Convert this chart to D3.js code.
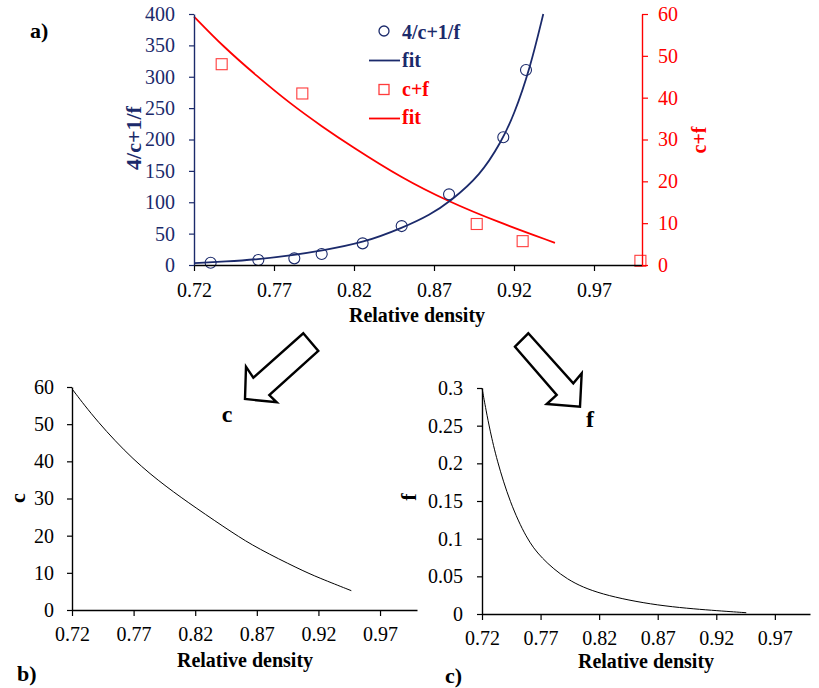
<!DOCTYPE html>
<html>
<head>
<meta charset="utf-8">
<script src="https://cdn.jsdelivr.net/npm/d3@7"></script>
<style>
  body { margin: 0; background: #fff; }
</style>
</head>
<body>
<svg id="main-svg" width="819" height="688"></svg>
<script>
var navy = "#1b2a6b";
var red = "#ff0000";
var serif = "'Liberation Serif', 'Times New Roman', Times, 'DejaVu Serif', serif";

// shared x ticks
var densityTicks = [0.72, 0.77, 0.82, 0.87, 0.92, 0.97];

// a) measured points
var invDensity = [0.7304, 0.7602, 0.7827, 0.7998, 0.8254, 0.8498, 0.8794, 0.9133, 0.9275];
var invValues  = [3.7, 8, 10.6, 17.5, 34.5, 62, 112.6, 203.5, 310.8];
var sumDensity = [0.7373, 0.7877, 0.8967, 0.9254, 0.999];
var sumValues  = [48.0, 41.0, 9.8, 5.7, 1.0];

// a) fit curves
var invFitX = [0.72, 0.74, 0.76, 0.78, 0.80, 0.826, 0.851, 0.8675, 0.88, 0.899, 0.912, 0.92, 0.93, 0.9383];
var invFitY = [3, 5.5, 9, 15, 23, 35.5, 60, 80, 101, 143, 196, 239, 313, 400];
var sumFitX = [0.72, 0.7383, 0.7592, 0.78, 0.8008, 0.8175, 0.8506, 0.879, 0.909, 0.9456];
var sumFitY = [59.4, 52.2, 45.2, 38.6, 32.9, 28.6, 20.6, 15.2, 10.4, 5.3];

// b) c
var cX = [0.72, 0.74, 0.77, 0.797, 0.82, 0.851, 0.8705, 0.905, 0.92, 0.9467];
var cY = [59.5, 50.8, 40.2, 33.0, 27.6, 20.6, 16.6, 10.9, 8.7, 5.2];

// c) f
var fX = [0.72, 0.7235, 0.7268, 0.7325, 0.7438, 0.758, 0.77, 0.792, 0.82, 0.87, 0.92, 0.9456];
var fY = [0.30, 0.27, 0.244, 0.205, 0.148, 0.100, 0.075, 0.045, 0.026, 0.0106, 0.0044, 0.0017];

var leftTicksA  = [0, 50, 100, 150, 200, 250, 300, 350, 400];
var rightTicksA = [0, 10, 20, 30, 40, 50, 60];
var cTicks = [0, 10, 20, 30, 40, 50, 60];
var fTicks = [0, 0.05, 0.1, 0.15, 0.2, 0.25, 0.3];

var svg = d3.select("#main-svg");

function zip(xs, ys){ return xs.map(function(v, i){ return [v, ys[i]]; }); }

function styleAxis(g, color, size){
  g.attr("font-family", null).attr("font-size", null);
  g.select(".domain").attr("stroke", color).attr("stroke-width", 1.4);
  g.selectAll(".tick line").attr("stroke", color).attr("stroke-width", 1.2);
  g.selectAll(".tick text").attr("fill", color)
    .style("font-family", serif).style("font-size", size + "px");
}

function label(txt, x, y, opts){
  opts = opts || {};
  return svg.append("text")
    .attr("transform", "translate(" + x + "," + y + ")" + (opts.rotate ? " rotate(-90)" : ""))
    .attr("text-anchor", opts.anchor || "middle")
    .attr("fill", opts.color || "#000")
    .style("font-family", serif)
    .style("font-size", (opts.size || 20) + "px")
    .style("font-weight", "bold")
    .text(txt);
}

var fmt2 = d3.format(".2f");

// ---------- a) ----------
var xA  = d3.scaleLinear().domain([0.72, 1.0]).range([194, 642]);
var yAL = d3.scaleLinear().domain([0, 400]).range([265, 14]);
var yAR = d3.scaleLinear().domain([0, 60]).range([265, 14]);

var lineInv = d3.line().curve(d3.curveBasis)
  .x(function(d){ return xA(d[0]); }).y(function(d){ return yAL(d[1]); });
var lineSum = d3.line().curve(d3.curveBasis)
  .x(function(d){ return xA(d[0]); }).y(function(d){ return yAR(d[1]); });

svg.append("path").datum(zip(sumFitX, sumFitY))
  .attr("d", lineSum).attr("fill", "none").attr("stroke", red).attr("stroke-width", 1.8);
svg.append("path").datum(zip(invFitX, invFitY))
  .attr("d", lineInv).attr("fill", "none").attr("stroke", navy).attr("stroke-width", 1.8);

svg.append("g").selectAll("circle")
  .data(zip(invDensity, invValues)).enter().append("circle")
  .attr("cx", function(d){ return xA(d[0]); })
  .attr("cy", function(d){ return yAL(d[1]); })
  .attr("r", 5.5)
  .attr("fill", "none").attr("stroke", navy).attr("stroke-width", 1.1);

svg.append("g").selectAll("rect")
  .data(zip(sumDensity, sumValues)).enter().append("rect")
  .attr("x", function(d){ return xA(d[0]) - 5.5; })
  .attr("y", function(d){ return yAR(d[1]) - 5.5; })
  .attr("width", 11).attr("height", 11)
  .attr("fill", "none").attr("stroke", "#ff3b3b").attr("stroke-width", 1.1);

var gxA = svg.append("g").attr("transform", "translate(0,265)")
  .call(d3.axisBottom(xA).tickValues(densityTicks).tickFormat(fmt2).tickSize(6).tickPadding(12).tickSizeOuter(0));
styleAxis(gxA, "#000", 20);

var gyAL = svg.append("g").attr("transform", "translate(194,0)")
  .call(d3.axisLeft(yAL).tickValues(leftTicksA).tickSize(5).tickPadding(14).tickSizeOuter(0));
styleAxis(gyAL, navy, 20);

var gyAR = svg.append("g").attr("transform", "translate(642,0)")
  .call(d3.axisRight(yAR).tickValues(rightTicksA).tickSize(6).tickPadding(10).tickSizeOuter(0));
styleAxis(gyAR, red, 20);

label("Relative density", 417, 322);
label("4/c+1/f", 141, 138, {rotate: true, color: navy, size: 22});
label("c+f", 706, 140, {rotate: true, color: red, size: 20});
label("a)", 30, 38, {anchor: "start", size: 22});

// legend
var legend = svg.append("g");
legend.append("circle").attr("cx", 384).attr("cy", 31).attr("r", 5)
  .attr("fill", "none").attr("stroke", navy).attr("stroke-width", 1.3);
legend.append("line").attr("x1", 369).attr("x2", 400).attr("y1", 60.5).attr("y2", 60.5)
  .attr("stroke", navy).attr("stroke-width", 1.8);
legend.append("rect").attr("x", 379).attr("y", 84.5).attr("width", 10).attr("height", 10)
  .attr("fill", "none").attr("stroke", "#ff3b3b").attr("stroke-width", 1.3);
legend.append("line").attr("x1", 369).attr("x2", 400).attr("y1", 118.5).attr("y2", 118.5)
  .attr("stroke", red).attr("stroke-width", 1.8);
label("4/c+1/f", 402, 39, {anchor: "start", color: navy});
label("fit", 402, 67, {anchor: "start", color: navy});
label("c+f", 402, 96, {anchor: "start", color: red});
label("fit", 402, 124, {anchor: "start", color: red});

// arrows
var arrowB = [[303.3, 333.3], [318.3, 351], [269.3, 395], [276.7, 402.3], [245, 399], [246, 366.7], [253.3, 377.7]];
var arrowC = [[515, 346.7], [528.3, 333.3], [573.3, 383.3], [581.7, 373.3], [580, 406.7], [546.7, 404], [556.7, 395]];
[arrowB, arrowC].forEach(function(p){
  svg.append("polygon").attr("points", p.map(function(q){ return q.join(","); }).join(" "))
    .attr("fill", "#fff").attr("stroke", "#000").attr("stroke-width", 2.4).attr("stroke-linejoin", "miter");
});
label("c", 227, 422, {size: 24});
label("f", 590, 427, {size: 24});

// ---------- b) ----------
var xB = d3.scaleLinear().domain([0.72, 1.0]).range([72, 417]);
var yB = d3.scaleLinear().domain([0, 60]).range([610, 387]);
svg.append("path").datum(zip(cX, cY))
  .attr("d", d3.line().curve(d3.curveBasis)
    .x(function(d){ return xB(d[0]); }).y(function(d){ return yB(d[1]); }))
  .attr("fill", "none").attr("stroke", "#000").attr("stroke-width", 1);
var gxB = svg.append("g").attr("transform", "translate(0,610)")
  .call(d3.axisBottom(xB).tickValues(densityTicks).tickFormat(fmt2).tickSize(6).tickPadding(11).tickSizeOuter(0));
styleAxis(gxB, "#000", 20);
var gyB = svg.append("g").attr("transform", "translate(72,0)")
  .call(d3.axisLeft(yB).tickValues(cTicks).tickSize(5).tickPadding(13).tickSizeOuter(0));
styleAxis(gyB, "#000", 20);
label("Relative density", 245, 667);
label("c", 25, 498, {rotate: true, size: 22});
label("b)", 17, 681, {anchor: "start", size: 22});

// ---------- c) ----------
var xC = d3.scaleLinear().domain([0.72, 1.0]).range([482, 810]);
var yC = d3.scaleLinear().domain([0, 0.3]).range([614, 388]);
svg.append("path").datum(zip(fX, fY))
  .attr("d", d3.line().curve(d3.curveBasis)
    .x(function(d){ return xC(d[0]); }).y(function(d){ return yC(d[1]); }))
  .attr("fill", "none").attr("stroke", "#000").attr("stroke-width", 1);
var gxC = svg.append("g").attr("transform", "translate(0,614)")
  .call(d3.axisBottom(xC).tickValues(densityTicks).tickFormat(fmt2).tickSize(6).tickPadding(11).tickSizeOuter(0));
styleAxis(gxC, "#000", 20);
var gyC = svg.append("g").attr("transform", "translate(482,0)")
  .call(d3.axisLeft(yC).tickValues(fTicks).tickFormat(function(d){ return String(+d.toFixed(2)); })
    .tickSize(5).tickPadding(14).tickSizeOuter(0));
styleAxis(gyC, "#000", 20);
label("Relative density", 646, 668);
label("f", 416, 497, {rotate: true, size: 22});
label("c)", 445, 683, {anchor: "start", size: 22});
</script>
</body>
</html>
